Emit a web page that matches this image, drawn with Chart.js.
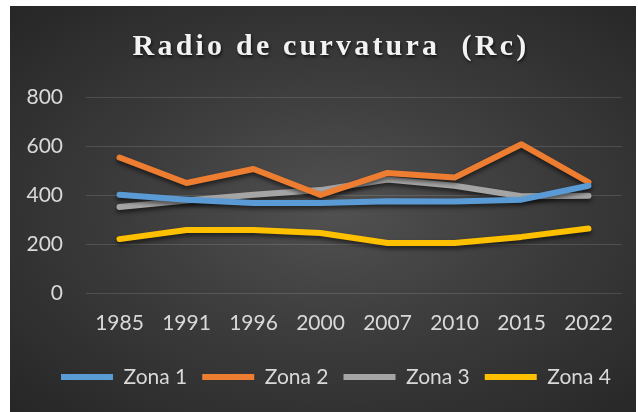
<!DOCTYPE html>
<html>
<head>
<meta charset="utf-8">
<script src="https://cdn.jsdelivr.net/npm/chart.js@4.4.1/dist/chart.umd.min.js"></script>
<style>
  html, body { margin: 0; padding: 0; background: #ffffff; }
  #bg { position: absolute; left: 10px; top: 6px; width: 626px; height: 406px;
        background: radial-gradient(ellipse at 52% 50%, #515151 0%, #3c3c3c 45%, #262626 100%); }
  #wrap { position: absolute; left: 0; top: 0; width: 638px; height: 412px; }
</style>
</head>
<body>
<div id="bg"></div>
<div id="wrap"><canvas id="c" width="638" height="412"></canvas></div>
<script>
const categories = ["1985", "1991", "1996", "2000", "2007", "2010", "2015", "2022"];
const zona1 = [401, 381, 367, 367, 374, 373, 381, 438];
const zona2 = [553, 449, 506, 400, 490, 471, 607, 452];
const zona3 = [351, 378, 401, 420, 463, 438, 395, 397];
const zona4 = [220, 257, 257, 245, 204, 204, 229, 263];
const seriesNames = ["Zona 1", "Zona 2", "Zona 3", "Zona 4"];
const seriesColors = ["#5B9BD5", "#ED7D31", "#A5A5A5", "#FFC000"];
const yTicks = [0, 200, 400, 600, 800];
const titleText = "Radio de curvatura  (Rc)";

const seriesData = [zona1, zona2, zona3, zona4];
const datasets = seriesData.map((d, i) => ({
  label: seriesNames[i],
  data: d,
  borderColor: seriesColors[i],
  backgroundColor: seriesColors[i],
  borderWidth: 6,
  borderCapStyle: 'round',
  borderJoinStyle: 'round',
  pointRadius: 0,
  pointHoverRadius: 0,
  tension: 0,
  fill: false
}));

const fxPlugin = {
  id: 'fx',
  afterInit(chart) {
    const tb = chart.titleBlock;
    if (tb) {
      const orig = tb.draw.bind(tb);
      tb.draw = function (...a) {
        const ctx = this.ctx;
        ctx.save();
        ctx.translate(10, 1);
        ctx.letterSpacing = '3.2px';
        ctx.shadowColor = 'rgba(0,0,0,0.65)';
        ctx.shadowOffsetX = 1;
        ctx.shadowOffsetY = 2;
        ctx.shadowBlur = 3;
        orig(...a);
        ctx.restore();
      };
    }
  },
  afterLayout(chart) {
    const lg = chart.legend;
    if (lg) { lg.left += 15; lg.right += 15; }
  },
  beforeDatasetsDraw(chart) {
    const ctx = chart.ctx;
    ctx.save();
    ctx.shadowColor = 'rgba(0,0,0,0.55)';
    ctx.shadowOffsetX = 0;
    ctx.shadowOffsetY = 3;
    ctx.shadowBlur = 4;
  },
  afterDatasetsDraw(chart) {
    chart.ctx.restore();
  }
};

new Chart(document.getElementById('c'), {
  type: 'line',
  data: { labels: categories, datasets },
  plugins: [fxPlugin],
  options: {
    responsive: false,
    animation: false,
    devicePixelRatio: 1,
    layout: { padding: { left: 20, right: 16, top: 0, bottom: 14.5 } },
    plugins: {
      tooltip: { enabled: false },
      title: {
        display: true,
        text: titleText,
        color: '#f2f2f2',
        font: { family: "'Liberation Serif', 'Times New Roman', serif", size: 30, weight: 'bold' },
        padding: { top: 28.6, bottom: 32.4 }
      },
      legend: {
        position: 'bottom',
        labels: {
          usePointStyle: true,
          pointStyle: 'line',
          pointStyleWidth: 52,
          boxHeight: 21,
          padding: 15,
          color: '#d9d9d9',
          font: { family: "Lato, 'Open Sans', sans-serif", size: 21 }
        }
      }
    },
    scales: {
      x: {
        offset: true,
        grid: { display: false, drawTicks: false },
        border: { display: false },
        ticks: {
          color: '#d9d9d9',
          padding: 17.4,
          maxRotation: 0,
          autoSkip: false,
          font: { family: "Lato, 'Open Sans', sans-serif", size: 21 }
        },
        afterFit(s) { s.height = 58.5; }
      },
      y: {
        min: 0,
        max: 800,
        afterBuildTicks(s) { s.ticks = yTicks.map(v => ({ value: v })); },
        grid: { color: 'rgba(255,255,255,0.13)', lineWidth: 1, drawTicks: false },
        border: { display: false },
        ticks: {
          color: '#d9d9d9',
          padding: 23,
          font: { family: "Lato, 'Open Sans', sans-serif", size: 21 }
        },
        afterFit(s) { s.width = 66; }
      }
    }
  }
});
</script>
</body>
</html>
